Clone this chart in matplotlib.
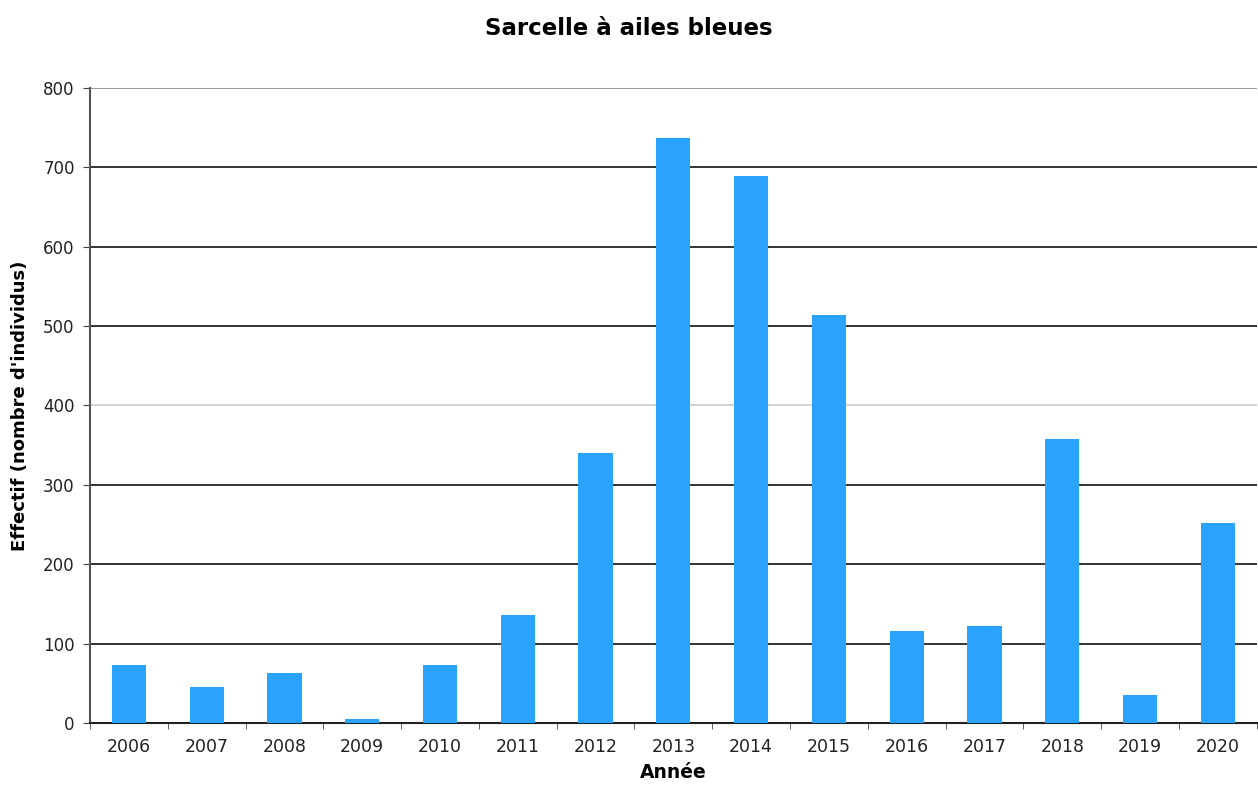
import matplotlib
matplotlib.use("Agg")
import matplotlib.pyplot as plt
import numpy as np

plt.rcParams['font.family'] = ['DejaVu Sans']

years = ['2006', '2007', '2008', '2009', '2010', '2011', '2012', '2013',
         '2014', '2015', '2016', '2017', '2018', '2019', '2020']
counts = [73, 45, 63, 5, 73, 136, 340, 737, 689, 514, 116, 122, 358, 35, 252]
yticks = [0, 100, 200, 300, 400, 500, 600, 700, 800]

fig = plt.figure(figsize=(12.58, 7.89), dpi=100)
ax = fig.add_axes([0.0715, 0.0837, 0.9275, 0.8048])

x = np.arange(len(years))
ax.bar(x, counts, width=0.44, color='#2aa3ff', zorder=3)

ax.set_xlim(-0.5, len(years) - 0.5)
ax.set_ylim(0, 800)
ax.set_yticks(yticks)
ax.set_yticklabels([str(v) for v in yticks], fontsize=12, color='#222222')
ax.set_xticks(x)
ax.set_xticklabels(years, fontsize=12.5, color='#222222')
ax.tick_params(axis='x', length=0, pad=11)
ax.set_xticks(np.arange(-0.5, len(years)), minor=True)
ax.tick_params(axis='x', which='minor', length=4, color='#444444')
ax.tick_params(axis='y', length=5, color='#444444', pad=6)

ax.yaxis.grid(True, color='#111111', linewidth=1.2, zorder=0)
for val, gl in zip(yticks, ax.get_ygridlines()):
    if val == 400:
        gl.set_color('#d4d4d4')
        gl.set_linewidth(1.5)
    elif val == 800:
        gl.set_color('#8a8a8a')
for s in ['top', 'right']:
    ax.spines[s].set_visible(False)
ax.spines['left'].set_color('#555555')
ax.spines['left'].set_linewidth(1.5)
ax.spines['bottom'].set_color('#222222')
ax.spines['bottom'].set_linewidth(1.5)

ax.set_xlabel('Année', fontsize=13.5, fontweight='bold', labelpad=5)
ax.set_ylabel("Effectif (nombre d'individus)", fontsize=13, fontweight='bold', labelpad=10)
fig.text(0.5, 0.9645, 'Sarcelle à ailes bleues', ha='center', va='center',
         fontsize=16.5, fontweight='bold')

fig.savefig('out.png', dpi=100)
